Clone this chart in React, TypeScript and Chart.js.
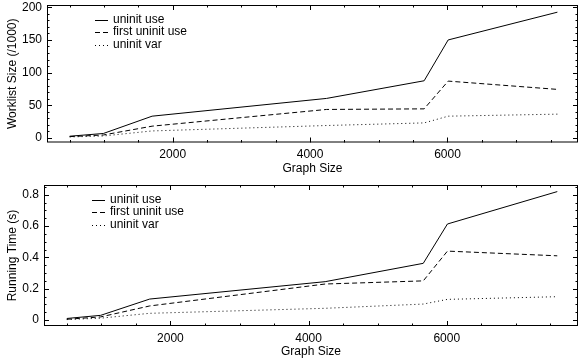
import React, { useEffect, useRef } from "react";
import { Chart, registerables } from "chart.js";

Chart.register(...registerables);

const graphSize = [500, 990, 1700, 4240, 5660, 6010, 7600];

const seriesLabels = ["uninit use", "first uninit use", "uninit var"];

const worklistUninitUse = [2.6, 6.8, 33.3, 60.5, 87.5, 150, 192.5];
const worklistFirstUninitUse = [2, 4.5, 18, 43.6, 44.5, 87, 74.3];
const worklistUninitVar = [1.5, 3, 10.7, 19, 23, 33.3, 36.4];

const timeUninitUse = [0.01, 0.03, 0.134, 0.245, 0.362, 0.613, 0.82];
const timeFirstUninitUse = [0.005, 0.02, 0.09, 0.23, 0.25, 0.44, 0.41];
const timeUninitVar = [0.003, 0.012, 0.043, 0.075, 0.102, 0.132, 0.149];

const xTicks = [2000, 4000, 6000];
const worklistTicks = [0, 50, 100, 150, 200];
const timeTicks = [0, 0.2, 0.4, 0.6, 0.8];

const FONT = "'Liberation Sans', Arial, Helvetica, sans-serif";
const dashes: number[][] = [[], [5, 3], [1, 3]];

function boxTicksPlugin(xMinor: number, xMajor: number, yMinor: number, yMajor: number) {
  return {
    id: "boxTicks",
    afterDraw(chart: any) {
      const { ctx, chartArea } = chart;
      const { left, right, top, bottom } = chartArea;
      const xs = chart.scales.x;
      const ys = chart.scales.y;
      ctx.save();
      ctx.strokeStyle = "#000";
      ctx.lineWidth = 1;
      ctx.setLineDash([]);
      ctx.strokeRect(left + 0.5, top + 0.5, right - left - 1, bottom - top - 1);
      ctx.beginPath();
      const eps = 1e-9;
      let start = Math.ceil(xs.min / xMinor) * xMinor;
      for (let v = start; v <= xs.max + eps; v += xMinor) {
        const major = Math.abs(v / xMajor - Math.round(v / xMajor)) < 1e-6;
        const len = major ? 5 : 2.5;
        const px = Math.round(xs.getPixelForValue(v)) + 0.5;
        ctx.moveTo(px, bottom);
        ctx.lineTo(px, bottom - len);
        ctx.moveTo(px, top);
        ctx.lineTo(px, top + len);
      }
      start = Math.ceil(ys.min / yMinor - 1e-6) * yMinor;
      for (let v = start; v <= ys.max + eps; v += yMinor) {
        const major = Math.abs(v / yMajor - Math.round(v / yMajor)) < 1e-6;
        const len = major ? 5 : 2.5;
        const py = Math.round(ys.getPixelForValue(v)) + 0.5;
        ctx.moveTo(left, py);
        ctx.lineTo(left + len, py);
        ctx.moveTo(right, py);
        ctx.lineTo(right - len, py);
      }
      ctx.stroke();

      // legend
      ctx.font = "12px " + FONT;
      ctx.fillStyle = "#000";
      ctx.textBaseline = "middle";
      ctx.textAlign = "left";
      chart.data.datasets.forEach((ds: any, i: number) => {
        const y = top + 14.5 + i * 12.5;
        ctx.beginPath();
        ctx.setLineDash(ds.borderDash || []);
        ctx.moveTo(left + 48, Math.round(y) + 0.5);
        ctx.lineTo(left + 61, Math.round(y) + 0.5);
        ctx.stroke();
        ctx.setLineDash([]);
        ctx.fillText(ds.label, left + 66, y);
      });
      ctx.restore();
    },
  };
}

function makeConfig(
  series: number[][],
  yTitle: string,
  yMin: number,
  yMax: number,
  yTickVals: number[],
  yWidth: number,
  xHeight: number,
  yMinor: number,
  yMajor: number,
  xTitleBottom: number
): any {
  return {
    type: "line",
    data: {
      datasets: series.map((vals, i) => ({
        label: seriesLabels[i],
        data: graphSize.map((x, j) => ({ x, y: vals[j] })),
        borderColor: "#000",
        borderWidth: 1,
        borderDash: dashes[i],
        pointRadius: 0,
        fill: false,
        tension: 0,
      })),
    },
    options: {
      responsive: false,
      animation: false,
      layout: { padding: { top: 5, right: 2, left: 5, bottom: 0 } },
      plugins: { legend: { display: false }, tooltip: { enabled: false } },
      scales: {
        x: {
          type: "linear",
          min: 170,
          max: 7900,
          grid: { display: false, drawTicks: false },
          border: { display: false },
          afterBuildTicks: (s: any) => {
            s.ticks = xTicks.map((v) => ({ value: v }));
          },
          afterFit: (s: any) => {
            s.height = xHeight;
            s.paddingLeft = 0;
            s.paddingRight = 0;
            s.paddingTop = 0;
            s.paddingBottom = 0;
          },
          ticks: {
            color: "#000",
            font: { family: FONT, size: 12 },
            padding: 5,
            maxRotation: 0,
            callback: (v: any) => String(v),
          },
          title: {
            display: true,
            text: "Graph Size",
            color: "#000",
            font: { family: FONT, size: 12 },
            padding: { top: 0, bottom: xTitleBottom },
          },
        },
        y: {
          type: "linear",
          min: yMin,
          max: yMax,
          grid: { display: false, drawTicks: false },
          border: { display: false },
          afterBuildTicks: (s: any) => {
            s.ticks = yTickVals.map((v) => ({ value: v }));
          },
          afterFit: (s: any) => {
            s.width = yWidth;
            s.paddingLeft = 0;
            s.paddingRight = 0;
            s.paddingTop = 0;
            s.paddingBottom = 0;
          },
          ticks: {
            color: "#000",
            font: { family: FONT, size: 12 },
            padding: 5,
            callback: (v: any) => String(v),
          },
          title: {
            display: true,
            text: yTitle,
            color: "#000",
            font: { family: FONT, size: 12 },
            padding: { top: 0, bottom: 0 },
          },
        },
      },
    },
    plugins: [boxTicksPlugin(500, 2000, yMinor, yMajor)],
  };
}

export default function App() {
  const topRef = useRef<HTMLCanvasElement>(null);
  const botRef = useRef<HTMLCanvasElement>(null);

  useEffect(() => {
    const c1 = new Chart(
      topRef.current!,
      makeConfig(
        [worklistUninitUse, worklistFirstUninitUse, worklistUninitVar],
        "Worklist Size (/1000)",
        -7,
        203.5,
        worklistTicks,
        42,
        37.5,
        10,
        50,
        4
      )
    );
    const c2 = new Chart(
      botRef.current!,
      makeConfig(
        [timeUninitUse, timeFirstUninitUse, timeUninitVar],
        "Running Time (s)",
        -0.038,
        0.862,
        timeTicks,
        39,
        34,
        0.05,
        0.2,
        1
      )
    );
    return () => {
      c1.destroy();
      c2.destroy();
    };
  }, []);

  return (
    <div style={{ position: "absolute", left: 0, top: 0, width: 580, height: 360, background: "#fff" }}>
      <canvas ref={topRef} width={580} height={180} style={{ position: "absolute", left: 0, top: 0, width: 580, height: 180 }} />
      <canvas ref={botRef} width={580} height={180} style={{ position: "absolute", left: 0, top: 180, width: 580, height: 180 }} />
    </div>
  );
}
